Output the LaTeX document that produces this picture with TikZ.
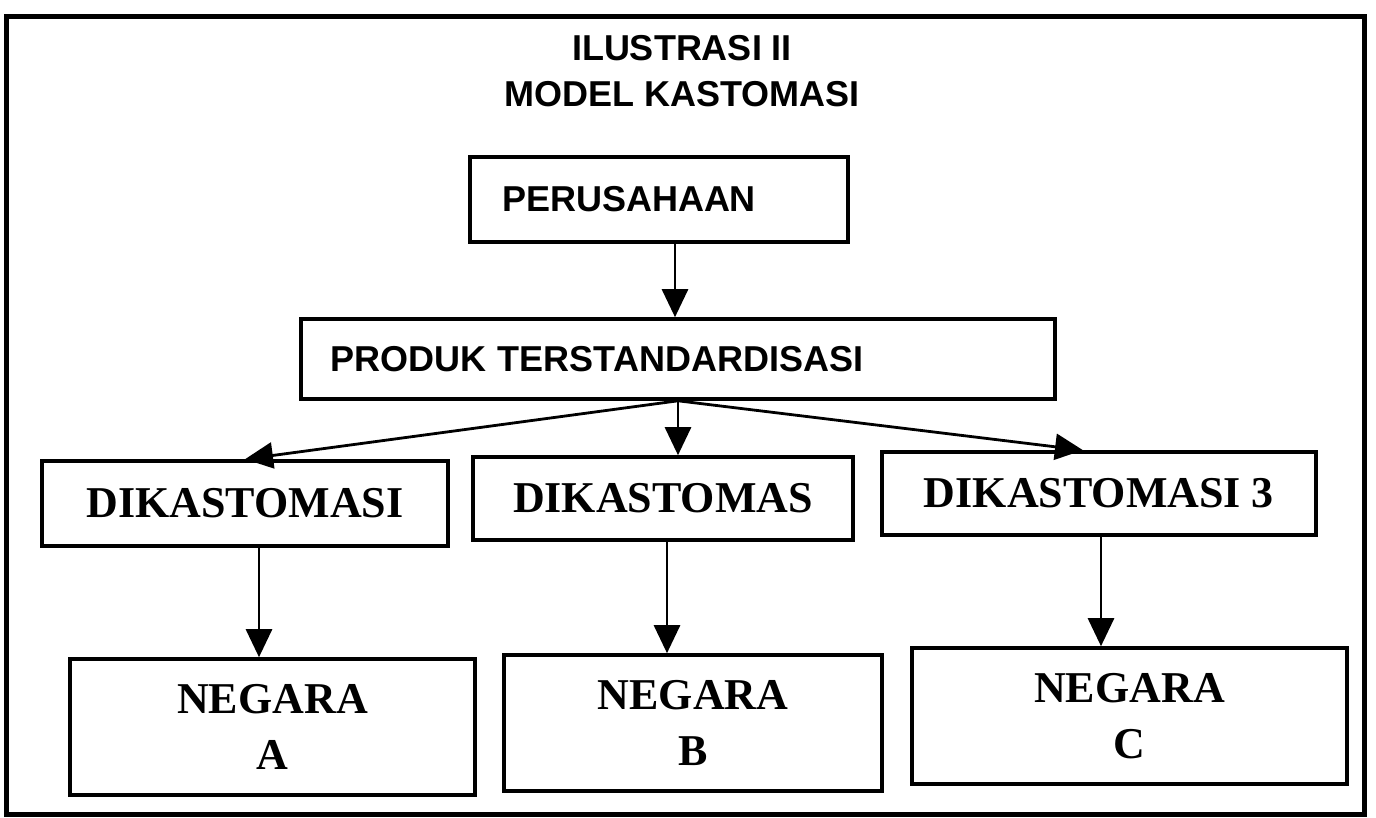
\documentclass[tikz,border=0pt]{standalone}
\usepackage{fontspec}
\setmainfont{Liberation Serif}
\newfontfamily\arialf{Liberation Sans}
\usetikzlibrary{arrows.meta,calc}
\begin{document}
\begin{tikzpicture}[x=0.5pt,y=-0.5pt,
  box/.style={draw, line width=1.8pt, inner sep=0pt},
  sanslbl/.style={font=\arialf\bfseries\fontsize{18}{20}\selectfont},
  seriflbl/.style={font=\bfseries\fontsize{22}{28}\selectfont},
  arr/.style={line width=1.4pt, -{Triangle[length=14pt,width=13pt]}},
  frame/.style={line width=2.5pt}]
\useasboundingbox (0,0) rectangle (1376,818);
\draw[frame] (6,17) rectangle (1364,814);
\node[font=\arialf\bfseries\fontsize{18}{23}\selectfont, align=center] (title) at (682,71) {ILUSTRASI II\\MODEL KASTOMASI};
% boxes
\node[box, minimum height=42.5pt, sanslbl, text width=157pt, align=left, inner xsep=16pt] (per) at (659,199.5) {PERUSAHAAN};
\node[box, minimum height=40pt, sanslbl, text width=348pt, align=left, inner xsep=14.5pt] (prod) at (678,359) {PRODUK TERSTANDARDISASI};
\node[box, minimum width=203pt, minimum height=42.5pt, seriflbl] (d1) at (245,503.5) {DIKASTOMASI};
\node[box, minimum width=190pt, minimum height=41.5pt, seriflbl] (d2) at (663,498.5) {DIKASTOMAS};
\node[box, minimum width=217pt, minimum height=41.5pt, seriflbl] (d3) at (1099,493.5) {DIKASTOMASI 3};
\node[box, minimum width=202.5pt, minimum height=68pt, seriflbl, align=center] (na) at (272.5,727) {NEGARA\\A};
\node[box, minimum width=189pt, minimum height=68pt, seriflbl, align=center] (nb) at (693,723) {NEGARA\\B};
\node[box, minimum width=217.5pt, minimum height=68pt, seriflbl, align=center] (nc) at (1129.5,716) {NEGARA\\C};
% guide coordinates for connector x positions
\coordinate (cP) at (675,0);
\coordinate (cR) at (1083,0);
\coordinate (cA) at (259,0);
\coordinate (cB) at (667,0);
\coordinate (cC) at (1101,0);
% connectors
\draw[arr] (per.south -| cP) -- (prod.north -| cP);
\draw[arr] (prod.south) -- (d1.north);
\draw[arr] (prod.south) -- (prod.south |- d2.north);
\draw[arr] (prod.south) -- (d3.north -| cR);
\draw[arr] (d1.south -| cA) -- (na.north -| cA);
\draw[arr] (d2.south -| cB) -- (nb.north -| cB);
\draw[arr] (d3.south -| cC) -- (nc.north -| cC);
\end{tikzpicture}
\end{document}
